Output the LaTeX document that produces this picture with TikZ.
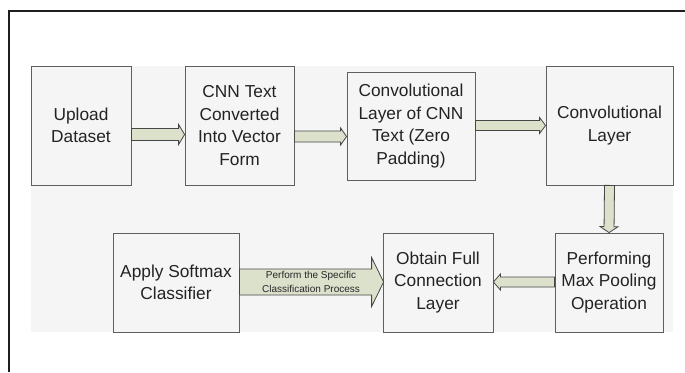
\documentclass[tikz,border=0pt]{standalone}
\usepackage{fontspec}
\setmainfont{Liberation Sans}
\usetikzlibrary{calc}
\definecolor{bgc}{RGB}{245,245,245}
\definecolor{boxline}{RGB}{95,95,95}
\definecolor{txt}{RGB}{35,35,35}
\definecolor{arrfill}{RGB}{220,225,204}
\definecolor{arrline}{RGB}{70,70,70}
\definecolor{frame}{RGB}{30,30,30}
\tikzset{
  procbox/.style={draw=boxline, line width=0.8pt, fill=bgc, inner sep=0pt, align=center,
    text=txt, font=\fontsize{17.3}{22.5}\selectfont},
  blk/.style={draw=arrline, line width=0.8pt, fill=arrfill, line join=miter},
}
\newcommand\blkarrow[5]{%
  \coordinate (BA) at (#1); \coordinate (BB) at (#2);
  \coordinate (BH) at ($(BB)!#5!(BA)$);
  \draw[blk] ($(BA)!#3!90:(BB)$) -- ($(BH)!#3!-90:(BA)$) -- ($(BH)!#4!-90:(BA)$) -- (BB)
    -- ($(BH)!#4!90:(BA)$) -- ($(BH)!#3!90:(BA)$) -- ($(BA)!#3!-90:(BB)$) -- cycle;}
\begin{document}
\begin{tikzpicture}[x=1pt,y=-1pt]
\useasboundingbox (0,0) rectangle (685,372);
% frame
\draw[frame, line width=2pt] (8.5,372) -- (8.5,10.5) -- (685,10.5);
% background
\fill[bgc] (31,66) rectangle (673,332);
% boxes
\node[procbox, minimum width=100pt, minimum height=119pt] (up) at (81,125.5) {Upload\\Dataset};
\node[procbox, minimum width=109pt, minimum height=119pt] (cnn) at (239.5,125.5) {CNN Text\\Converted\\Into Vector\\Form};
\node[procbox, minimum width=128pt, minimum height=108pt] (czp) at (411,126) {Convolutional\\Layer of CNN\\Text (Zero\\Padding)};
\node[procbox, minimum width=127pt, minimum height=119pt] (conv) at (609.5,125.5) {Convolutional\\Layer};
\node[procbox, minimum width=108pt, minimum height=99pt] (pool) at (609,282.5) {Performing\\Max Pooling\\Operation};
\node[procbox, minimum width=110pt, minimum height=99pt] (full) at (438,282.5) {Obtain Full\\Connection\\Layer};
\node[procbox, minimum width=126pt, minimum height=99pt] (soft) at (176,282.5) {Apply Softmax\\Classifier};
% arrows
\coordinate (a1s) at (up.east |- 0,134.5);   \coordinate (a1e) at (cnn.west |- 0,134.5);
\coordinate (a2s) at (cnn.east |- 0,136.5);  \coordinate (a2e) at (czp.west |- 0,136.5);
\coordinate (a3s) at (czp.east |- 0,125.5);  \coordinate (a3e) at (conv.west |- 0,125.5);
\coordinate (a4s) at (conv.south);           \coordinate (a4e) at (pool.north);
\coordinate (a5s) at (pool.west |- 0,282);   \coordinate (a5e) at (full.east |- 0,282);
\coordinate (a6s) at (soft.east |- 0,282);   \coordinate (a6e) at ($(full.west |- 0,282)+(1,0)$);
\blkarrow{a1s}{a1e}{6pt}{10pt}{6pt}
\blkarrow{a2s}{a2e}{5.5pt}{8.5pt}{6pt}
\blkarrow{a3s}{a3e}{5pt}{8pt}{6pt}
\blkarrow{a4s}{a4e}{5pt}{9pt}{6pt}
\blkarrow{a5s}{a5e}{5pt}{8pt}{7pt}
\blkarrow{a6s}{a6e}{13pt}{24.5pt}{12pt}
\node[align=center, text=black!85, font=\fontsize{10}{14}\selectfont, inner sep=0pt] (lbl) at (311,281.5) {Perform the Specific\\Classification Process};
\end{tikzpicture}
\end{document}
